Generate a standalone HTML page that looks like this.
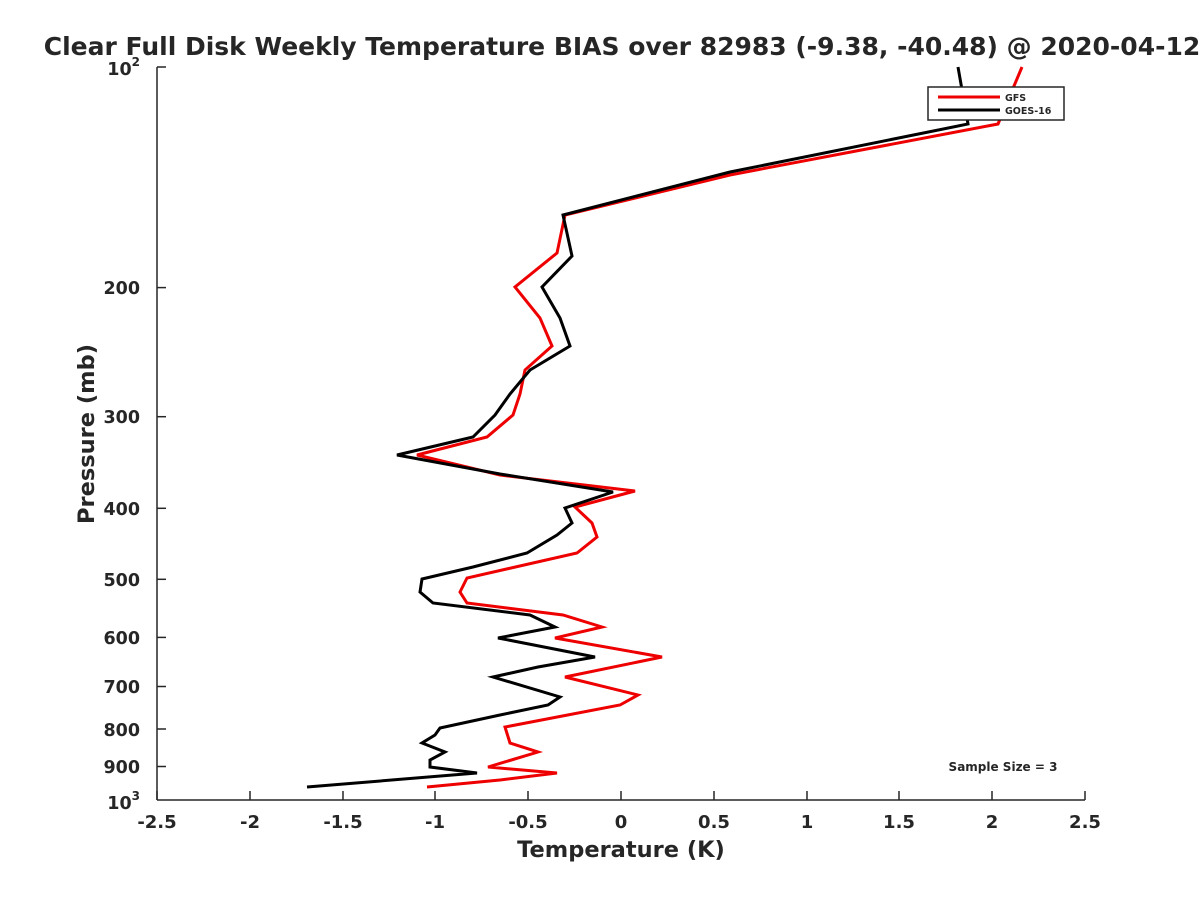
<!DOCTYPE html>
<html><head><style>body{margin:0;background:#fff}svg{display:block}text{font-family:"DejaVu Sans",sans-serif;font-weight:bold;fill:#262626}</style></head>
<body>
<svg width="1200" height="900" viewBox="0 0 1200 900">
<rect width="1200" height="900" fill="#fff"/>
<text x="622" y="55" font-size="25" text-anchor="middle" fill="#000">Clear Full Disk Weekly Temperature BIAS over 82983 (-9.38, -40.48) @ 2020-04-12</text>
<g stroke="#262626" stroke-width="1.5" fill="none">
<line x1="157" y1="67" x2="157" y2="800"/>
<line x1="157" y1="800" x2="1085" y2="800"/>
<g>
<line x1="157" y1="67" x2="166" y2="67"/>
<line x1="157" y1="287.6" x2="166" y2="287.6"/>
<line x1="157" y1="416.7" x2="166" y2="416.7"/>
<line x1="157" y1="508.3" x2="166" y2="508.3"/>
<line x1="157" y1="579.3" x2="166" y2="579.3"/>
<line x1="157" y1="637.4" x2="166" y2="637.4"/>
<line x1="157" y1="686.5" x2="166" y2="686.5"/>
<line x1="157" y1="729" x2="166" y2="729"/>
<line x1="157" y1="766.5" x2="166" y2="766.5"/>
</g>
<g>
<line x1="157" y1="800" x2="157" y2="791"/><line x1="250" y1="800" x2="250" y2="791"/><line x1="343" y1="800" x2="343" y2="791"/><line x1="435" y1="800" x2="435" y2="791"/><line x1="528" y1="800" x2="528" y2="791"/><line x1="621" y1="800" x2="621" y2="791"/><line x1="714" y1="800" x2="714" y2="791"/><line x1="807" y1="800" x2="807" y2="791"/><line x1="899" y1="800" x2="899" y2="791"/><line x1="992" y1="800" x2="992" y2="791"/><line x1="1085" y1="800" x2="1085" y2="791"/>
</g>
</g>
<g font-size="17.5" text-anchor="end">
<text x="140" y="75">10<tspan font-size="12" dy="-9">2</tspan></text>
<text x="140" y="294">200</text><text x="140" y="423">300</text><text x="140" y="515">400</text><text x="140" y="586">500</text><text x="140" y="644">600</text><text x="140" y="693">700</text><text x="140" y="736">800</text><text x="140" y="773">900</text>
<text x="140" y="809">10<tspan font-size="12" dy="-9">3</tspan></text>
</g>
<g font-size="18" text-anchor="middle">
<text x="157" y="828">-2.5</text><text x="250" y="828">-2</text><text x="343" y="828">-1.5</text><text x="435" y="828">-1</text><text x="528" y="828">-0.5</text><text x="621" y="828">0</text><text x="714" y="828">0.5</text><text x="807" y="828">1</text><text x="899" y="828">1.5</text><text x="992" y="828">2</text><text x="1085" y="828">2.5</text>
</g>
<text x="621" y="857" font-size="22.5" text-anchor="middle">Temperature (K)</text>
<text transform="translate(94,434) rotate(-90)" font-size="22.5" text-anchor="middle">Pressure (mb)</text>
<text x="1003" y="771" font-size="12" text-anchor="middle" fill="#000">Sample Size = 3</text>
<polyline fill="none" stroke="#e00" stroke-width="3" points="1022,67 998,124 730,175 565,215 557,253 515,287 540,318 552,346 525,370 520,394 513,415 487,437 417,455 500,475 635,491 575,507 592,523 597,537 577,553 467,578 460,592 467,603 563,615 602,627 555,638 662,657 565,677 638,695 620,705 505,727 510,743 538,752 488,767 557,773 500,780 427,787"/>
<polyline fill="none" stroke="#000" stroke-width="3" points="958,67 968,124 730,172 563,215 572,256 542,287 560,318 570,346 530,370 510,394 495,415 473,437 397,455 500,474 613,492 565,508 572,523 557,535 527,553 473,567 422,579 420,592 433,603 530,615 555,627 498,638 595,657 538,667 493,677 560,697 548,705 500,715 440,728 435,735 422,743 445,752 430,760 430,767 477,773 307,787"/>
<rect x="928" y="87" width="136" height="33" fill="#fff" stroke="#262626" stroke-width="1.5"/>
<line x1="938" y1="97" x2="1000" y2="97" stroke="#e00" stroke-width="3"/>
<line x1="938" y1="110" x2="1000" y2="110" stroke="#000" stroke-width="3"/>
<text x="1005" y="101" font-size="9.5">GFS</text>
<text x="1005" y="114" font-size="9.5">GOES-16</text>
</svg>
</body></html>
